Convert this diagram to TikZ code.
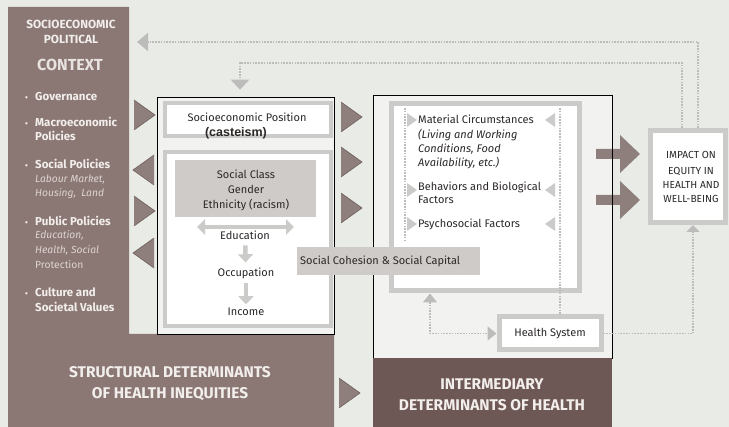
\documentclass[tikz,border=0pt]{standalone}
\usepackage{fontspec}
\setmainfont{Fira Sans}
\newfontfamily\arialfont{Liberation Sans}
\usetikzlibrary{arrows.meta}
\definecolor{bg}{HTML}{E8EBE6}
\definecolor{taupe}{HTML}{8B7874}
\definecolor{taupedark}{HTML}{6E5855}
\definecolor{tri}{HTML}{8F7F7C}
\definecolor{tridark}{HTML}{6F605D}
\definecolor{frame}{HTML}{CBCBC9}
\definecolor{paper}{HTML}{F2F3F0}
\definecolor{greybox}{HTML}{CFCBC8}
\definecolor{dots}{HTML}{BCBCBA}
\definecolor{ltext}{HTML}{F2EEEC}
\definecolor{itext}{HTML}{DDD4D2}
\definecolor{dtext}{HTML}{2B2827}
\begin{document}
\begin{tikzpicture}[x=1pt,y=-1pt,
  frm/.style={draw=frame, line width=4pt, fill=white, inner sep=0pt},
  outl/.style={draw=black, line width=0.6pt, fill=paper, inner sep=0pt},
  txt/.style={text=dtext, font=\fontsize{11}{13}\selectfont, inner sep=0pt, anchor=base},
  ltxt/.style={txt, anchor=base west},
  ctx/.style={text=ltext, font=\bfseries\fontsize{11.5}{13}\selectfont, inner sep=0pt, anchor=base west},
  ctxi/.style={text=itext, font=\itshape\fontsize{10.3}{12}\selectfont, inner sep=0pt, anchor=base west},
  big/.style={text=ltext, font=\bfseries\fontsize{15.5}{17}\selectfont, inner sep=0pt, anchor=base},
  caps/.style={text=dtext, font=\fontsize{10.2}{12}\selectfont, inner sep=0pt, anchor=base},
  fat/.style={draw=frame, line width=4.5pt},
  fattip/.style={-{Triangle[length=8pt,width=15pt]}},
  dotline/.style={draw=dots, line width=1.6pt, dash pattern=on 1.6pt off 1.2pt},
  btri/.pic={\fill[tri] (-10,-15) -- (11,0) -- (-10,15) -- cycle;
             \draw[tridark, line width=0.6pt] (-10,-15) -- (11,0) -- (-10,15);},
  stri/.pic={\fill[frame] (-5,-7) -- (5,0) -- (-5,7) -- cycle;},
  barrow/.pic={\fill[tri] (0,-5) -- (24,-5) -- (24,-19) -- (44,0) -- (24,19) -- (24,5) -- (0,5) -- cycle;}
]
\useasboundingbox (0,0) rectangle (729,427);
\fill[bg] (0,0) rectangle (729,427);

% ---------- context column and structural block
\fill[taupe] (8,7) -- (129,7) -- (129,334) -- (334,334) -- (334,427) -- (8,427) -- cycle;

\node[text=ltext, font=\bfseries\fontsize{11.8}{13}\selectfont, inner sep=0pt, anchor=base] (ctxa) at (71,29) {SOCIOECONOMIC};
\node[text=ltext, font=\bfseries\fontsize{11.8}{13}\selectfont, inner sep=0pt, anchor=base] (ctxb) at (71,44) {POLITICAL};
\node[text=ltext!90!taupe, font=\bfseries\fontsize{16}{18}\selectfont, inner sep=0pt, anchor=base] (ctxc) at (70,71) {CONTEXT};

\foreach \yy/\nm in {101/b1,169/b2,226/b3,297/b4,127/b5}{\node[ctx, font=\bfseries\fontsize{8}{9}\selectfont] (\nm) at (25,\yy) {•};}
\node[ctx] (gov) at (35,101) {Governance};
\node[ctx] (mac1) at (35,127) {Macroeconomic};
\node[ctx] (mac2) at (35,141) {Policies};
\node[ctx] (soc1) at (35,169) {Social Policies};
\node[ctxi] (soc2) at (35,183) {Labour Market,};
\node[ctxi] (soc3) at (35,197) {Housing,\ \ Land};
\node[ctx] (pub1) at (35,226) {Public Policies};
\node[ctxi] (pub2) at (35,239) {Education,};
\node[ctxi] (pub3) at (35,254) {Health, Social};
\node[ctxi, font=\fontsize{10.3}{12}\selectfont] (pub4) at (35,269) {Protection};
\node[ctx] (cul1) at (35,297) {Culture and};
\node[ctx] (cul2) at (35,312) {Societal Values};

\node[big] (str1) at (170,377.5) {STRUCTURAL DETERMINANTS};
\node[big] (str2) at (170,398.5) {OF HEALTH INEQUITIES};

% ---------- structural middle box
\node[outl, minimum width=177pt, minimum height=237pt] (mid) at (245.5,215.5) {};
\node[frm, minimum width=166pt, minimum height=33pt] (pos) at (248,119.5) {};
\node[txt] (posa) at (247,122) {Socioeconomic Position};
\node[text=dtext, font=\arialfont\bfseries\fontsize{12.5}{14}\selectfont, inner sep=0pt, anchor=base] (posb) at (236,137) {(casteism)};
\node[frm, minimum width=166pt, minimum height=174pt] (frm2) at (248,239) {};
\node[fill=greybox, minimum width=141pt, minimum height=57pt, inner sep=0pt] (scg) at (245.5,188.5) {};
\node[txt] (sc1) at (246,179) {Social Class};
\node[txt] (sc2) at (246,194) {Gender};
\node[txt] (sc3) at (246,209) {Ethnicity (racism)};
\coordinate (dl) at (197,227);
\coordinate (dr) at (294,227);
\draw[fat, {Triangle[length=8pt,width=15pt]}-{Triangle[length=8pt,width=15pt]}] (dl) -- (dr);
\node[txt] (edu) at (245,240) {Education};
\node[txt] (occ) at (246,277) {Occupation};
\node[txt] (inc) at (246,316) {Income};
\draw[fat, fattip, shorten <=5pt, shorten >=6pt] (edu) -- (occ);
\draw[fat, fattip, shorten <=3pt, shorten >=4pt] (occ) -- (inc);

% triangles between context and middle box
\pic at (144,115) {btri};
\pic[rotate=180] at (144,170) {btri};
\pic at (144,211) {btri};
\pic[rotate=180] at (144,253) {btri};
% triangles between middle and intermediary
\pic at (351,117) {btri};
\pic at (351,162) {btri};
\pic at (351,208) {btri};
\pic at (349,393) {btri};

% ---------- intermediary box
\node[outl, minimum width=239pt, minimum height=263pt] (inter) at (492.5,226.5) {};
\node[fill=taupedark, minimum width=239pt, minimum height=69pt, inner sep=0pt] (interd) at (492.5,392.5) {};
\node[big] (int1) at (492,389.5) {INTERMEDIARY};
\node[big] (int2) at (492,410.5) {DETERMINANTS OF HEALTH};
\node[frm, line width=5pt, minimum width=188pt, minimum height=187pt] (inner) at (485,197.5) {};

\coordinate (lv) at (405,108);
\coordinate (rv) at (560,108);
\draw[dotline] (lv) -- (405,240);
\pic at (412,120) {stri};
\pic at (412,190) {stri};
\pic at (412,224) {stri};
\pic[rotate=180] at (550,120) {stri};
\pic[rotate=180] at (550,190) {stri};
\pic[rotate=180] at (550,224) {stri};

\node[ltxt] (mat1) at (418,124) {Material Circumstances};
\node[ltxt, font=\itshape\fontsize{11}{13}\selectfont] (mat2) at (418,139) {(Living and Working};
\node[ltxt, font=\itshape\fontsize{11}{13}\selectfont] (mat3) at (418,153) {Conditions, Food};
\node[ltxt, font=\itshape\fontsize{11}{13}\selectfont] (mat4) at (418,167) {Availability, etc.)};
\node[ltxt] (beh1) at (418,191) {Behaviors and Biological};
\node[ltxt] (beh2) at (418,204) {Factors};
\node[ltxt] (psy) at (418,228) {Psychosocial Factors};

% health system
\node[frm, line width=5pt, minimum width=102pt, minimum height=33pt] (hs) at (550,333.5) {};
\node[txt] (hst) at (550,337) {Health System};
\draw[dotline] (rv) -- (rv |- hs.north);
\coordinate (hsl) at (430,0);
\draw[dotline, {Triangle[length=9pt,width=14pt]}-{Triangle[length=9pt,width=14pt]}] (inner.south -| hsl) |- (hs.west);

% social cohesion
\node[fill=greybox, minimum width=183pt, minimum height=28pt, inner sep=0pt] (coh) at (388.5,261) {};
\node[txt, anchor=base west] (coht) at (300,265) {Social Cohesion \& Social Capital};

% ---------- impact
\node[frm, line width=5pt, minimum width=75pt, minimum height=92pt] (imp) at (688,176.5) {};
\node[caps] (imp1) at (691,159) {IMPACT ON};
\node[caps] (imp2) at (691,175) {EQUITY IN};
\node[caps] (imp3) at (691,189) {HEALTH AND};
\node[caps] (imp4) at (691,203) {WELL-BEING};

% block arrows
\pic at (596,154) {barrow};
\pic at (596,200) {barrow};
\draw[black, line width=0.6pt] (inter.north east) -- (inter.south east);

% ---------- feedback loops
\coordinate (fb1) at (137,42);
\coordinate (fb2) at (240,63);
\draw[dotline, -{Triangle[length=11pt,width=18pt]}] ([xshift=10pt]imp.north) |- (fb1);
\draw[dotline, -{Triangle[length=10pt,width=18pt]}, shorten >=7pt] ([xshift=-6pt]imp.north) |- (fb2) -- (fb2 |- mid.north);
\coordinate (hsr) at (693,0);
\draw[dotline, -{Triangle[length=7pt,width=13pt]}] (hs.east) -| (imp.south -| hsr);
\end{tikzpicture}
\end{document}
